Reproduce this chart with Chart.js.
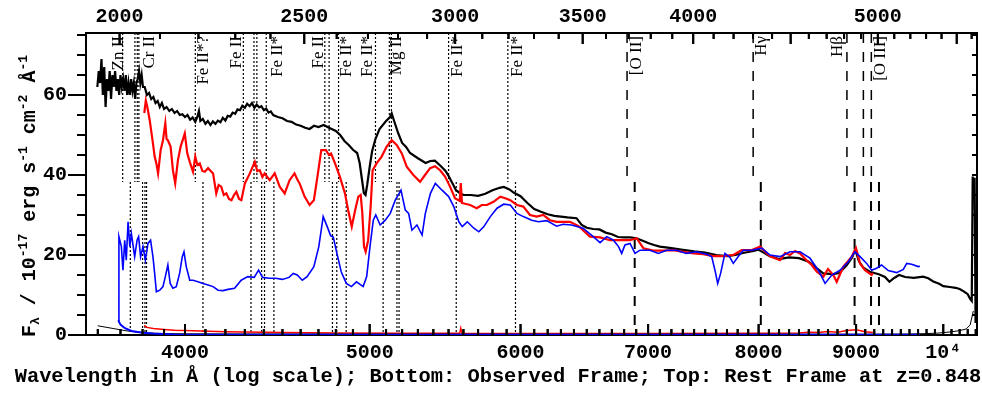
<!DOCTYPE html>
<html>
<head>
<meta charset="utf-8">
<script src="https://cdn.jsdelivr.net/npm/chart.js@4.4.1/dist/chart.umd.min.js"></script>
<style>
  html, body { margin: 0; padding: 0; background: #fff; }
  #spectrum { display: block; }
</style>
</head>
<body>
<canvas id="spectrum" width="982" height="394"></canvas>
<script>
// Observed-frame wavelength range (Angstrom) and flux range (1e-17 erg/s/cm2/A)
const X_MIN = 3549;
const X_MAX = 10416;
const Y_MAX = 75.5;
const Z_REST = 0.848;   // top axis, lower line marks
const Z_UPPER = 0.831;  // upper line marks and their labels
const SPLIT = 38.25;    // flux where upper and lower marks meet

// Black spectrum
const blackWave = [3598, 3604, 3610, 3616, 3622, 3628, 3634, 3640, 3646, 3652, 3658, 3664, 3670, 3676, 3682, 3688, 3694, 3700, 3706, 3712, 3718, 3724, 3730, 3736, 3742, 3748, 3754, 3760, 3766, 3772, 3778, 3784, 3790, 3796, 3802, 3810, 3820, 3830, 3840, 3850, 3860, 3870, 3880, 3890, 3900, 3912, 3925, 3937, 3950, 3962, 3975, 3987, 4000, 4012, 4025, 4037, 4050, 4060, 4068, 4075, 4087, 4100, 4112, 4125, 4137, 4150, 4162, 4175, 4187, 4200, 4212, 4225, 4237, 4250, 4262, 4275, 4287, 4300, 4312, 4325, 4337, 4350, 4362, 4375, 4387, 4400, 4412, 4425, 4437, 4450, 4475, 4500, 4525, 4550, 4575, 4600, 4625, 4650, 4675, 4700, 4730, 4760, 4800, 4825, 4850, 4875, 4900, 4925, 4940, 4955, 4965, 4975, 4985, 5000, 5015, 5035, 5060, 5100, 5125, 5135, 5150, 5175, 5200, 5225, 5250, 5300, 5350, 5380, 5410, 5450, 5480, 5500, 5525, 5550, 5575, 5600, 5650, 5700, 5750, 5800, 5850, 5880, 5920, 5950, 6000, 6050, 6100, 6150, 6200, 6250, 6300, 6350, 6420, 6460, 6500, 6550, 6600, 6650, 6700, 6750, 6800, 6850, 6900, 6950, 7000, 7050, 7100, 7200, 7300, 7400, 7500, 7600, 7700, 7780, 7850, 7950, 8000, 8050, 8100, 8200, 8300, 8400, 8500, 8580, 8650, 8750, 8820, 8900, 8960, 8990, 9030, 9080, 9150, 9250, 9320, 9370, 9420, 9480, 9550, 9650, 9760, 9820, 9880, 9950, 10000, 10080, 10150, 10200, 10250, 10300, 10330, 10350, 10362, 10374, 10386, 10398];
const blackFlux = [62, 66, 63, 69, 60, 67, 57, 64, 61, 66, 59, 65, 62, 66, 61, 64, 60, 65, 62, 64, 61, 65, 60, 63, 60, 64, 61, 63, 59, 63, 64, 66, 63, 65, 62, 62, 60, 60.5, 59, 59.5, 58, 58.5, 57, 58, 56.5, 57, 56, 56.5, 55.5, 56, 55, 55.2, 54.5, 55, 53.8, 54.4, 53.3, 54.5, 56, 53.5, 54, 52.8, 53.5, 52.5, 53.4, 52.8, 53.6, 53.2, 54.3, 53.6, 54.8, 54.6, 55.6, 55.3, 56.4, 56.2, 57.3, 56.8, 57.8, 57.2, 58, 56.8, 57.6, 56.9, 57.2, 56.2, 56.6, 55.6, 55.9, 55, 54.5, 54.2, 53.5, 53.3, 52.6, 52.3, 51.8, 51.5, 52.3, 52, 52.5, 51.8, 51, 50, 48.5, 47.5, 46.3, 45.5, 43, 38.5, 35.5, 35, 37.5, 42, 46, 49, 51.5, 53.5, 54.5, 55.4, 53.5, 50.5, 48, 47, 45.5, 44.2, 43, 43.5, 43.6, 42.2, 41, 39.8, 38, 36.2, 35.5, 35, 35, 34.8, 35.3, 36.2, 36.8, 37, 36.4, 35.6, 34.7, 33, 31.5, 30.8, 30.2, 29.8, 29.6, 29.4, 29.2, 27.5, 26.8, 26.5, 26.4, 25.6, 25.2, 24.5, 24.4, 24.4, 24.2, 23.6, 23, 22.5, 22.1, 21.7, 21.3, 20.9, 20.6, 20, 19.7, 20, 20.5, 21, 21.3, 20.6, 19.8, 19, 19.4, 19.2, 18.3, 16.7, 15.4, 15.2, 15.5, 17.5, 19.5, 21.4, 18.5, 16.8, 15.8, 15.2, 14.5, 13.3, 14.2, 15, 14.5, 14.3, 14.6, 14.2, 13.4, 12.8, 12.2, 12, 11.8, 11.5, 10.9, 10.2, 9, 8.5, 39.6, 37, 39.3, 3];

// Red spectrum
const redWave = [3808, 3815, 3822, 3833, 3848, 3856, 3864, 3872, 3884, 3895, 3906, 3912, 3918, 3931, 3942, 3953, 3966, 3979, 3999, 4011, 4023, 4039, 4050, 4060, 4072, 4085, 4097, 4113, 4138, 4154, 4166, 4179, 4192, 4205, 4218, 4231, 4244, 4256, 4270, 4282, 4300, 4326, 4352, 4365, 4378, 4392, 4404, 4431, 4458, 4485, 4512, 4539, 4566, 4580, 4594, 4622, 4650, 4674, 4697, 4716, 4743, 4760, 4772, 4795, 4823, 4853, 4872, 4893, 4913, 4932, 4946, 4956, 4966, 4976, 4991, 5006, 5018, 5042, 5073, 5104, 5135, 5166, 5198, 5229, 5271, 5314, 5346, 5379, 5411, 5444, 5477, 5510, 5543, 5575, 5582, 5590, 5645, 5691, 5726, 5761, 5807, 5855, 5890, 5926, 5974, 6020, 6069, 6119, 6167, 6217, 6267, 6317, 6368, 6433, 6525, 6605, 6685, 6766, 6849, 6904, 6960, 7044, 7130, 7216, 7304, 7394, 7483, 7574, 7666, 7759, 7838, 7930, 8014, 8111, 8210, 8260, 8309, 8360, 8410, 8478, 8530, 8583, 8652, 8700, 8756, 8792, 8863, 8953, 8999, 9043, 9098, 9171, 9185];
const redFlux = [55.5, 58.6, 57, 53.7, 47.9, 44.6, 42.9, 40.4, 46.2, 48.7, 52.9, 49, 48.7, 47.1, 41.2, 37.9, 43.7, 47.1, 50.4, 45.4, 43.3, 40.8, 44.6, 42.5, 42.9, 41, 40.8, 41.7, 40.4, 35.4, 37.5, 37.1, 35, 35.4, 34, 33.7, 35, 35.8, 34, 33.7, 37.9, 40.4, 43.3, 41, 41.2, 39.5, 40.4, 38.7, 40.4, 37.1, 35.4, 38.7, 40.4, 39, 37.9, 34.6, 32.5, 33.7, 40.4, 46.2, 46.2, 45, 45.4, 42.9, 39.6, 35.4, 31.2, 27.1, 31.2, 34.6, 35, 30.4, 22.1, 20.8, 23.7, 32.1, 41.2, 42.9, 44.6, 47.1, 48.7, 47.5, 45.4, 42.1, 40, 38.3, 40, 41.7, 42.2, 41.2, 39.6, 37.1, 34.2, 33.5, 38, 33, 32.5, 31.7, 32.5, 32.5, 33.3, 34.6, 34.2, 33.7, 32.5, 32.1, 30, 29.6, 30, 28.7, 28.3, 28.3, 28.3, 27.3, 24.6, 24.4, 23.7, 23.7, 23.7, 24.2, 21.7, 21.1, 21.1, 21.2, 20.8, 20.4, 20.2, 19.7, 19.7, 20, 21.2, 21.2, 22.1, 19.7, 18.7, 20.5, 20, 21, 20.4, 18.7, 17.5, 15.8, 14.6, 16.5, 15, 13.3, 17.1, 19.6, 21.7, 17.9, 16.2, 15, 15.5];

// Blue spectrum
const blueWave = [3690, 3693, 3704, 3711, 3719, 3726, 3734, 3742, 3749, 3764, 3775, 3782, 3791, 3802, 3813, 3825, 3837, 3848, 3856, 3864, 3880, 3895, 3906, 3918, 3929, 3942, 3958, 3974, 3987, 3995, 4006, 4023, 4039, 4063, 4088, 4113, 4138, 4163, 4188, 4214, 4247, 4281, 4315, 4349, 4372, 4393, 4428, 4463, 4499, 4536, 4559, 4581, 4609, 4636, 4674, 4702, 4727, 4750, 4770, 4785, 4804, 4831, 4861, 4891, 4921, 4961, 4982, 5002, 5022, 5037, 5064, 5095, 5126, 5157, 5193, 5220, 5241, 5262, 5294, 5327, 5348, 5381, 5413, 5457, 5501, 5535, 5569, 5592, 5626, 5671, 5705, 5740, 5785, 5832, 5879, 5926, 5974, 6020, 6082, 6131, 6193, 6267, 6317, 6381, 6471, 6551, 6605, 6659, 6713, 6754, 6780, 6807, 6849, 6890, 6932, 7016, 7087, 7159, 7245, 7331, 7421, 7513, 7559, 7589, 7614, 7641, 7681, 7727, 7759, 7806, 7854, 7934, 8030, 8111, 8210, 8309, 8410, 8512, 8598, 8669, 8740, 8827, 8916, 8988, 9043, 9116, 9171, 9226, 9281, 9357, 9452, 9529, 9568, 9625, 9702, 9722];
const blueFlux = [3.7, 24.6, 22.1, 16.2, 23.7, 18.7, 28.3, 22.1, 25.4, 19.6, 23.7, 24.6, 19.6, 22.1, 18.7, 22.9, 23.7, 19.6, 15.4, 10.8, 11.2, 12.1, 14.6, 17.5, 12.9, 11.7, 12.1, 15.4, 19.6, 20.8, 17.1, 13.7, 13.7, 13.3, 12.9, 12.5, 12.1, 11.2, 11.1, 11.4, 11.7, 13.7, 14.6, 14.4, 16.2, 14.4, 14.2, 14.2, 13.9, 14.4, 15.4, 15, 13.7, 14.6, 17.1, 22.1, 29.6, 27.1, 24.8, 24.5, 20.8, 15.8, 12.9, 12.1, 13.3, 12.1, 14.6, 22.1, 28.7, 30, 27.5, 28.7, 30.4, 33.7, 36.2, 31.2, 30.4, 26.2, 27.5, 25, 30.4, 35.4, 37.9, 36.2, 34.6, 32.1, 28.3, 27.1, 28.3, 26.7, 25.8, 27.1, 29.6, 31.7, 32.7, 32.5, 30.4, 29.6, 28.7, 28.3, 28.6, 27.2, 27.7, 27.5, 26.7, 24.6, 23.1, 24.6, 23.7, 22.1, 20.4, 22.5, 22.9, 20.4, 21.2, 21.2, 20.4, 21.2, 21.2, 20.4, 20.8, 20.2, 19.6, 16.2, 12.9, 15.4, 20.4, 19.4, 17.9, 19.6, 21.2, 21.2, 21.7, 20, 19.6, 20.8, 20.8, 19.2, 16.2, 12.9, 15, 16.2, 18.3, 20.8, 19.6, 17.9, 16.2, 16.7, 17.5, 16.1, 15.6, 16.4, 17.9, 17.7, 17.1, 17.2];

// Error spectra along the bottom
const blackErrWave = [3600, 3640, 3680, 3720, 3760, 3820, 3900, 4000, 4500, 5500, 7000, 9000, 9600, 9800, 9950, 10100, 10200, 10280, 10330, 10370];
const blackErrFlux = [2.3, 1.9, 1.5, 1.1, 0.8, 0.5, 0.35, 0.3, 0.25, 0.2, 0.2, 0.2, 0.25, 0.35, 0.5, 0.8, 1.1, 1.5, 2.5, 6];
const redErrWave = [3808, 3820, 3850, 3900, 3950, 4000, 4200, 4500, 4800, 5200, 5575, 5582, 5590, 6000, 7000, 8000, 8400, 8500, 8600, 8700, 8800, 8900, 9000, 9100, 9185];
const redErrFlux = [2.4, 1.9, 1.6, 1.4, 1.2, 1.1, 0.8, 0.6, 0.5, 0.45, 0.45, 1.7, 0.45, 0.4, 0.4, 0.45, 0.5, 0.7, 0.6, 0.9, 0.7, 1.1, 1.3, 0.8, 0.6];
const blueErrWave = [3690, 3700, 3720, 3750, 3800, 3850, 3950, 4200, 9722];
const blueErrFlux = [3.7, 2.6, 1.7, 1.0, 0.55, 0.35, 0.15, 0.05, 0.05];

// Line marks, rest wavelengths (Angstrom)
const absorptionRest = [2026.1, 2056.3, 2062.2, 2066.2, 2212, 2344.2, 2374.5, 2382.8, 2410, 2586.7, 2600.2, 2630, 2750, 2796.4, 2803.5, 3004, 3227];
const emissionRest = [3727, 4340.5, 4861.3, 4958.9, 5006.8];
const lineLabels = ["Zn II", "Cr II", "Fe II*?", "Fe II", "Fe II*", "Fe II", "Fe II*", "Fe II*", "Mg II", "Fe II*", "Fe II*", "[O II]", "H\u03b3", "H\u03b2", "[O III]"];
const lineLabelRest = [2016, 2092, 2235, 2325, 2442, 2568, 2655, 2725, 2822, 3035, 3265, 3772, 4387, 4805, 5060];

// Axis ticks
const obsMajor = [4000, 5000, 6000, 7000, 8000, 9000, 10000];
const obsLabels = ["4000", "5000", "6000", "7000", "8000", "9000", "10\u2074"];
const obsMinor = [];
for (let w = 3600; w <= 10400; w += 100) obsMinor.push(w);
const restMajor = [2000, 2500, 3000, 3500, 4000, 5000];
const restMinor = [];
for (let w = 2000; w <= 5600; w += 100) restMinor.push(w);
const fluxMajor = [0, 20, 40, 60];
const fluxMinor = [0, 5, 10, 15, 20, 25, 30, 35, 40, 45, 50, 55, 60, 65, 70, 75];

const MONO = "'Liberation Mono', 'DejaVu Sans Mono', monospace";
const AXIS_FONT = { family: MONO, size: 20, weight: "bold" };

const pairs = (wave, flux) => wave.map((w, i) => ({ x: w, y: flux[i] }));

// vertical marks as one path broken by nulls
const lineMarks = (rest, z, from, to) => {
  const pts = [];
  rest.forEach((r) => {
    const w = r * (1 + z);
    pts.push({ x: w, y: from }, { x: w, y: to }, { x: w, y: null });
  });
  return pts;
};

const fixedTicks = (values) => (axis) => {
  axis.ticks = values.map((v) => ({ value: v }));
};
const fixedSize = (size) => (axis) => {
  if (axis.isHorizontal()) axis.height = size;
  else axis.width = size;
};

const curve = (wave, flux, color, width, order) => ({
  data: pairs(wave, flux),
  borderColor: color,
  borderWidth: width,
  pointRadius: 0,
  tension: 0,
  fill: false,
  order: order,
  xAxisID: "x",
  yAxisID: "y",
});

const markSet = (data, dash, width) => ({
  data: data,
  borderColor: "#000",
  borderWidth: width,
  borderDash: dash,
  pointRadius: 0,
  spanGaps: false,
  fill: false,
  order: 10,
  xAxisID: "x",
  yAxisID: "y",
});

const noGrid = { display: false, drawTicks: false };
const axisLine = { display: true, color: "#000", width: 2 };

// tick marks as filled bars: inward on bottom, top and right, outward on the left
function drawTicks(chart) {
  const { ctx, chartArea: area, scales } = chart;
  ctx.save();
  ctx.setTransform(1, 0, 0, 1, 0, 0);
  ctx.globalAlpha = 1;
  ctx.globalCompositeOperation = "source-over";
  ctx.fillStyle = "#000";
  obsMinor.forEach((w) => {
    const px = scales.x.getPixelForValue(w);
    const len = obsMajor.indexOf(w) >= 0 ? 11 : 6;
    ctx.fillRect(px - 1, area.bottom - len, 2, len);
  });
  restMinor.forEach((w) => {
    const px = scales.xTop.getPixelForValue(w);
    const len = w % 500 === 0 ? 11 : 6;
    ctx.fillRect(px - 1, area.top, 2, len);
  });
  fluxMinor.forEach((v) => {
    const py = scales.y.getPixelForValue(v);
    const len = fluxMajor.indexOf(v) >= 0 ? 18 : 9;
    ctx.fillRect(area.left - len, py - 1, len, 2);
    ctx.fillRect(area.right - 5, py - 1, 5, 2);
  });
  ctx.restore();
}

// line labels under the plot curves; ticks, titles on top
const decorations = {
  id: "decorations",
  beforeDatasetsDraw(chart) {
    const { ctx, chartArea, scales } = chart;
    ctx.save();
    ctx.fillStyle = "#000";
    ctx.font = "17px 'Liberation Serif', 'DejaVu Serif', serif";
    ctx.textAlign = "right";
    ctx.textBaseline = "middle";
    lineLabels.forEach((text, i) => {
      const px = scales.x.getPixelForValue(lineLabelRest[i] * (1 + Z_UPPER));
      ctx.save();
      ctx.translate(px, chartArea.top + 3);
      ctx.rotate(-Math.PI / 2);
      ctx.fillText(text, 0, 0);
      ctx.restore();
    });
    ctx.restore();
  },
  afterDatasetsDraw(chart) {
    drawTicks(chart);
  },
  afterDraw(chart) {
    drawTicks(chart);

    const { ctx } = chart;
    ctx.save();
    ctx.fillStyle = "#000";

    // bottom title
    ctx.font = "bold 20.4px " + MONO;
    ctx.textAlign = "center";
    ctx.textBaseline = "middle";
    ctx.fillText("Wavelength in \u00c5 (log scale); Bottom: Observed Frame; Top: Rest Frame at z=0.848", 498, 377);

    // y title with sub- and superscripts
    const big = "bold 20px " + MONO;
    const small = "bold 13px " + MONO;
    const parts = [
      ["F", 0], ["\u03bb", -1], [" / 10", 0], ["-17", 1], [" erg s", 0], ["-1", 1],
      [" cm", 0], ["-2", 1], [" \u00c5", 0], ["-1", 1],
    ];
    let total = 0;
    parts.forEach(([t, s]) => {
      ctx.font = s ? small : big;
      total += ctx.measureText(t).width;
    });
    ctx.translate(35, 196);
    ctx.rotate(-Math.PI / 2);
    ctx.textAlign = "left";
    ctx.textBaseline = "alphabetic";
    let pos = -total / 2;
    parts.forEach(([t, s]) => {
      ctx.font = s ? small : big;
      const dy = s === 1 ? -8 : s === -1 ? 4 : 0;
      ctx.fillText(t, pos, dy);
      pos += ctx.measureText(t).width;
    });
    ctx.restore();
  },
};

new Chart(document.getElementById("spectrum"), {
  type: "line",
  data: {
    datasets: [
      markSet(lineMarks(absorptionRest, Z_UPPER, Y_MAX, SPLIT), [2, 2], 1.2),
      markSet(lineMarks(absorptionRest, Z_REST, SPLIT, 0), [2, 2], 1.2),
      markSet(lineMarks(emissionRest, Z_UPPER, Y_MAX, SPLIT), [10, 9], 1.5),
      markSet(lineMarks(emissionRest, Z_REST, SPLIT, 0), [10, 9], 2),
      curve(blackErrWave, blackErrFlux, "#000", 1, 4),
      curve(redErrWave, redErrFlux, "#f00", 1.5, 4),
      curve(blueErrWave, blueErrFlux, "#00f", 2, 3),
      curve(blackWave, blackFlux, "#000", 2.2, 2),
      curve(redWave, redFlux, "#f00", 2.2, 1),
      curve(blueWave, blueFlux, "#00f", 1.6, 0),
    ],
  },
  options: {
    responsive: false,
    animation: false,
    plugins: { legend: { display: false }, tooltip: { enabled: false } },
    scales: {
      x: {
        type: "logarithmic",
        position: "bottom",
        min: X_MIN,
        max: X_MAX,
        afterBuildTicks: fixedTicks(obsMajor),
        afterFit: fixedSize(59),
        grid: noGrid,
        border: axisLine,
        ticks: {
          autoSkip: false, maxRotation: 0, minRotation: 0, padding: 6,
          color: "#000", font: AXIS_FONT,
          callback: (v, i) => obsLabels[i],
        },
      },
      xTop: {
        type: "logarithmic",
        position: "top",
        min: X_MIN / (1 + Z_REST),
        max: X_MAX / (1 + Z_REST),
        afterBuildTicks: fixedTicks(restMajor),
        afterFit: fixedSize(33),
        grid: noGrid,
        border: axisLine,
        ticks: {
          autoSkip: false, maxRotation: 0, minRotation: 0, padding: 4.5,
          color: "#000", font: AXIS_FONT,
          callback: (v) => String(v),
        },
      },
      y: {
        type: "linear",
        position: "left",
        min: 0,
        max: Y_MAX,
        afterBuildTicks: fixedTicks(fluxMajor),
        afterFit: fixedSize(86),
        grid: noGrid,
        border: axisLine,
        ticks: { padding: 19, color: "#000", font: AXIS_FONT, callback: (v) => String(v) },
      },
      yRight: {
        type: "linear",
        position: "right",
        min: 0,
        max: Y_MAX,
        afterFit: fixedSize(5),
        grid: noGrid,
        border: axisLine,
        ticks: { display: false },
      },
    },
  },
  plugins: [decorations],
});
</script>
</body>
</html>
